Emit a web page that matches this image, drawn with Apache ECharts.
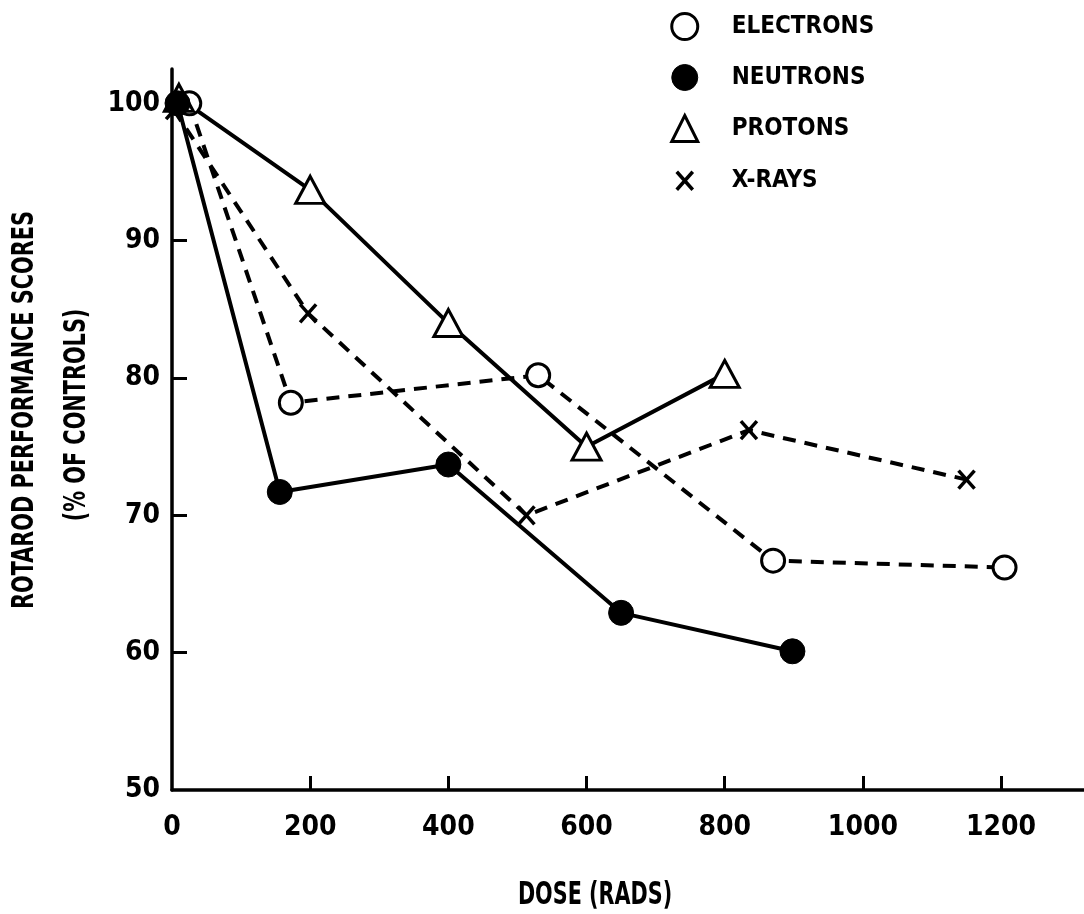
<!DOCTYPE html>
<html>
<head>
<meta charset="utf-8">
<script src="https://cdn.jsdelivr.net/npm/echarts@6/dist/echarts.min.js"></script>
<style>html,body{margin:0;padding:0;background:#fff;}#chart{width:1084px;height:914px;}</style>
</head>
<body>
<div id="chart"></div>
<script>
// ---- data ----
const electronsDose  = [25, 172, 530, 870, 1205];
const electronsScore = [100, 78.2, 80.2, 66.7, 66.2];
const neutronsDose   = [8, 156, 400, 650, 898];
const neutronsScore  = [100, 71.7, 73.7, 62.9, 60.1];
const protonsDose    = [10, 200, 400, 600, 800];
const protonsScore   = [100.4, 93.7, 84, 75, 80.3];
const xraysDose      = [3, 197, 513, 835, 1150];
const xraysScore     = [99.5, 84.7, 70, 76.2, 72.6];

const seriesNames = ['ELECTRONS', 'NEUTRONS', 'PROTONS', 'X-RAYS'];
const xTickLabels = [0, 200, 400, 600, 800, 1000, 1200];
const xTickMarks  = [200, 400, 600, 800, 1000, 1200];
const yTickLabels = [50, 60, 70, 80, 90, 100];
const yTickMarks  = [60, 70, 80, 90, 100];
const xTitle = 'DOSE (RADS)';
const yTitle1 = 'ROTAROD PERFORMANCE SCORES';
const yTitle2 = '(% OF CONTROLS)';

const zip = (xs, ys) => xs.map((x, i) => [x, ys[i]]);
const FONT = "'DejaVu Sans Condensed', 'Liberation Sans Narrow', sans-serif";
const XPATH = 'path://M0 0M26 26M5 4L21 22M21 4L5 22';

const chart = echarts.init(document.getElementById('chart'), null, {renderer: 'canvas'});
const openStyle = {color: '#fff', borderColor: '#000', borderWidth: 3};
const fillStyle = {color: '#000', borderColor: '#000', borderWidth: 1};
const xStyle = {color: '#000', borderColor: '#000', borderWidth: 3.5};
const titleStyle = (t, size) => ({text: t, fontFamily: FONT, fontWeight: 'bold', fontSize: size, fill: '#000', align: 'center', verticalAlign: 'middle'});

chart.setOption({
  animation: false,
  backgroundColor: '#fff',
  grid: {left: 172, right: 0, top: 69, bottom: 124, containLabel: false, outerBoundsMode: 'none'},
  legend: {
    orient: 'vertical', left: 665, top: 7,
    itemWidth: 26, itemHeight: 26, itemGap: 23,
    selectedMode: false,
    textStyle: {fontFamily: FONT, fontWeight: 'bold', fontSize: 24, lineHeight: 26, color: '#000', padding: [0, 0, 0, 29]},
    data: [
      {name: seriesNames[0], icon: 'circle', itemStyle: openStyle},
      {name: seriesNames[1], icon: 'circle', itemStyle: fillStyle},
      {name: seriesNames[2], icon: 'triangle', itemStyle: openStyle},
      {name: seriesNames[3], icon: XPATH, itemStyle: xStyle}
    ]
  },
  xAxis: {
    type: 'value', min: 0, max: 1320, interval: 200,
    splitLine: {show: false},
    axisLine: {show: true, onZero: false, lineStyle: {color: '#000', width: 3.5}},
    axisTick: {show: true, inside: true, length: 14, lineStyle: {color: '#000', width: 3}, customValues: xTickMarks},
    axisLabel: {margin: 24, fontFamily: FONT, fontWeight: 'bold', fontSize: 28, color: '#000', customValues: xTickLabels,
                formatter: v => String(v)}
  },
  yAxis: {
    type: 'value', min: 50, max: 102.5, interval: 10,
    splitLine: {show: false},
    axisLine: {show: true, onZero: false, lineStyle: {color: '#000', width: 3.5}},
    axisTick: {show: true, inside: true, length: 15, lineStyle: {color: '#000', width: 3}, customValues: yTickMarks},
    axisLabel: {margin: 12, fontFamily: FONT, fontWeight: 'bold', fontSize: 28, color: '#000', customValues: yTickLabels,
                formatter: v => String(v)}
  },
  graphic: [
    {type: 'text', x: 595, y: 896, scaleX: 0.72, style: titleStyle(xTitle, 32)},
    {type: 'text', x: 25, y: 410, rotation: Math.PI / 2, scaleX: 0.746, style: titleStyle(yTitle1, 31)},
    {type: 'text', x: 77, y: 415, rotation: Math.PI / 2, scaleX: 0.746, style: titleStyle(yTitle2, 31)}
  ],
  series: [
    {name: seriesNames[0], type: 'line', data: zip(electronsDose, electronsScore),
     symbol: 'circle', symbolSize: 23, itemStyle: openStyle,
     lineStyle: {color: '#000', width: 4, type: [13, 9]}, emphasis: {disabled: true}, z: 3},
    {name: seriesNames[1], type: 'line', data: zip(neutronsDose, neutronsScore),
     symbol: 'circle', symbolSize: 25, itemStyle: fillStyle,
     lineStyle: {color: '#000', width: 4, type: 'solid'}, emphasis: {disabled: true}, z: 4},
    {name: seriesNames[2], type: 'line', data: zip(protonsDose, protonsScore),
     symbol: 'triangle', symbolSize: [29, 27], itemStyle: openStyle,
     lineStyle: {color: '#000', width: 4, type: 'solid'}, emphasis: {disabled: true}, z: 3},
    {name: seriesNames[3], type: 'line', data: zip(xraysDose, xraysScore),
     symbol: XPATH, symbolSize: 26, itemStyle: xStyle,
     lineStyle: {color: '#000', width: 4, type: [13, 9]}, emphasis: {disabled: true}, z: 3}
  ]
});
</script>
</body>
</html>
